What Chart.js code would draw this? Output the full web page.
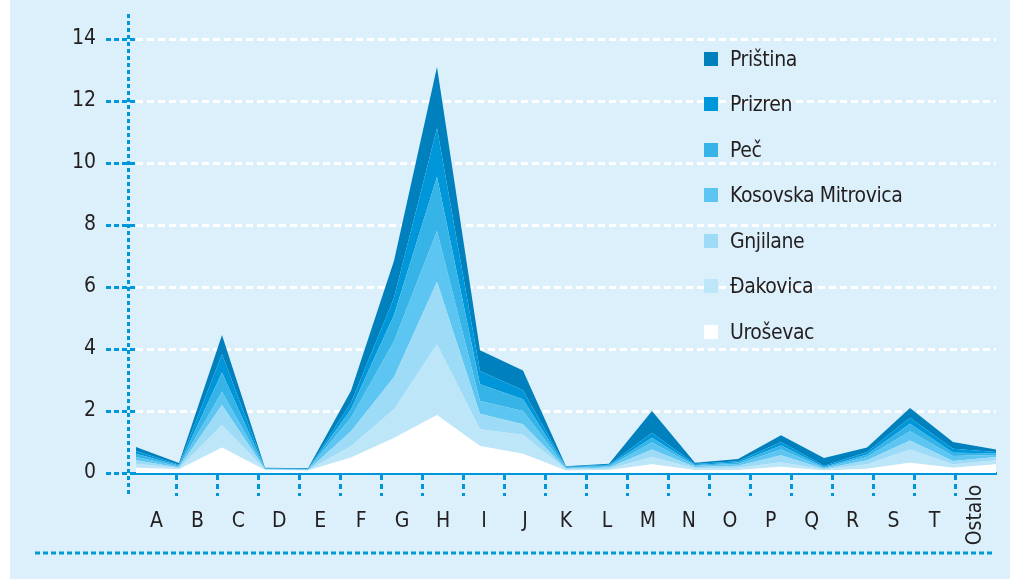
<!DOCTYPE html>
<html>
<head>
<meta charset="utf-8">
<script src="https://cdn.jsdelivr.net/npm/chart.js@4.4.0/dist/chart.umd.min.js"></script>
<style>
  html, body { margin: 0; padding: 0; background: #fff; }
  #wrap { position: relative; width: 1010px; height: 579px;
    background: linear-gradient(to right, #fff 10px, #dcf0fb 10px); }
  #legend { position: absolute; left: 704px; top: 36px; list-style: none; margin: 0; padding: 0;
    font-family: 'Liberation Sans Narrow', 'DejaVu Sans Condensed', Roboto, sans-serif;
    font-size: 21px; letter-spacing: -0.4px; color: #231f20; }
  #legend li { height: 45.5px; display: flex; align-items: center; }
  #legend .box { width: 14px; height: 14px; margin-right: 12px; flex: none; }
</style>
</head>
<body>
<div id="wrap">
  <canvas id="chart"></canvas>
  <ul id="legend"></ul>
</div>
<script>
// categories on the x axis
const categories = ['A', 'B', 'C', 'D', 'E', 'F', 'G', 'H', 'I', 'J', 'K',
  'L', 'M', 'N', 'O', 'P', 'Q', 'R', 'S', 'T', 'Ostalo'];

const yTicks = [0, 2, 4, 6, 8, 10, 12, 14];

// stacked series, bottom to top
const urosevac     = [0.17, 0.12, 0.82, 0.10, 0.08, 0.50, 1.13, 1.87, 0.87, 0.62, 0.08, 0.10, 0.28, 0.10, 0.10, 0.20, 0.08, 0.14, 0.33, 0.17, 0.28];
const dakovica     = [0.13, 0.03, 0.73, 0.01, 0.01, 0.37, 0.93, 2.28, 0.54, 0.61, 0.03, 0.04, 0.24, 0.05, 0.07, 0.15, 0.03, 0.14, 0.43, 0.11, 0.13];
const gnjilane     = [0.11, 0.03, 0.64, 0.01, 0.01, 0.48, 1.04, 2.02, 0.50, 0.34, 0.03, 0.04, 0.24, 0.04, 0.06, 0.22, 0.03, 0.13, 0.29, 0.11, 0.11];
const kosMitrovica = [0.11, 0.03, 0.43, 0.01, 0.01, 0.43, 1.15, 1.64, 0.41, 0.43, 0.02, 0.03, 0.22, 0.04, 0.06, 0.19, 0.03, 0.11, 0.30, 0.16, 0.06];
const pec          = [0.10, 0.03, 0.62, 0.01, 0.01, 0.28, 0.85, 1.75, 0.54, 0.38, 0.02, 0.03, 0.16, 0.03, 0.05, 0.13, 0.02, 0.08, 0.24, 0.10, 0.06];
const prizren      = [0.09, 0.03, 0.59, 0.01, 0.01, 0.21, 0.55, 1.56, 0.43, 0.29, 0.02, 0.03, 0.16, 0.03, 0.04, 0.11, 0.04, 0.08, 0.19, 0.13, 0.04];
const pristina     = [0.13, 0.05, 0.62, 0.02, 0.02, 0.38, 1.20, 1.98, 0.67, 0.64, 0.02, 0.03, 0.70, 0.04, 0.07, 0.22, 0.25, 0.14, 0.32, 0.22, 0.08];

const seriesNames  = ['Uroševac', 'Đakovica', 'Gnjilane', 'Kosovska Mitrovica', 'Peč', 'Prizren', 'Priština'];
const seriesValues = [urosevac, dakovica, gnjilane, kosMitrovica, pec, prizren, pristina];
const seriesColors = ['#ffffff', '#bee6f9', '#9ddbf7', '#5cc5f1', '#37b4e7', '#0096da', '#0081bd'];

const BLUE = '#0096da';
const TEXT = '#231f20';
const FONT = "'Liberation Sans Narrow', 'DejaVu Sans Condensed', Roboto, sans-serif";
const FONT_SIZE = 21;

const datasets = seriesNames.map((name, i) => ({
  label: name,
  data: seriesValues[i],
  backgroundColor: seriesColors[i],
  borderWidth: 0,
  pointRadius: 0,
  tension: 0,
  fill: i === 0 ? 'origin' : '-1',
  xAxisID: 'x',
  yAxisID: 'y'
}));

// extra decoration: vertical axis line, bottom rule, rotated last label
const decor = {
  id: 'decor',
  afterDraw(chart) {
    const ctx = chart.ctx;
    const area = chart.chartArea;
    const xs = chart.scales.xLabels;
    ctx.save();
    ctx.strokeStyle = BLUE;
    ctx.lineWidth = 3;
    ctx.setLineDash([4, 3]);
    ctx.beginPath();
    ctx.moveTo(area.left - 7.5, area.top - 25);
    ctx.lineTo(area.left - 7.5, area.bottom + 22);
    ctx.stroke();

    ctx.setLineDash([5, 3]);
    ctx.beginPath();
    ctx.moveTo(35, area.bottom + 80);
    ctx.lineTo(area.right - 4, area.bottom + 80);
    ctx.stroke();

    const last = categories.length - 1;
    ctx.translate(xs.getPixelForTick(last), area.bottom + 42);
    ctx.rotate(-Math.PI / 2);
    ctx.fillStyle = TEXT;
    ctx.font = FONT_SIZE + 'px ' + FONT;
    ctx.textAlign = 'center';
    ctx.textBaseline = 'middle';
    ctx.fillText(categories[last], 0, 0);
    ctx.restore();
  }
};

new Chart(document.getElementById('chart'), {
  type: 'line',
  data: { labels: categories, datasets: datasets },
  options: {
    responsive: true,
    maintainAspectRatio: false,
    animation: false,
    layout: { padding: { top: 39, right: 14, left: 0, bottom: 0 } },
    plugins: { legend: { display: false }, tooltip: { enabled: false } },
    scales: {
      x: { type: 'category', display: false, offset: false },
      xLabels: {
        type: 'category',
        labels: categories,
        position: 'bottom',
        offset: true,
        z: 1,
        grid: {
          offset: true,
          drawOnChartArea: false,
          drawTicks: true,
          tickLength: 23,
          tickWidth: 3,
          tickBorderDash: [5, 4],
          tickColor: ctx => (ctx.type !== 'tick' || ctx.index === 0) ? 'rgba(0,0,0,0)' : BLUE
        },
        border: { display: true, color: BLUE, width: 3, dash: [5, 3] },
        ticks: {
          autoSkip: false,
          maxRotation: 0,
          padding: 13,
          color: TEXT,
          font: { family: FONT, size: FONT_SIZE },
          callback: (v, i) => i === categories.length - 1 ? '' : categories[i]
        },
        afterFit: s => { s.height = 106; }
      },
      y: {
        stacked: true,
        min: yTicks[0],
        max: yTicks[yTicks.length - 1],
        afterBuildTicks: s => { s.ticks = yTicks.map(v => ({ value: v })); },
        ticks: { padding: 10, color: TEXT, font: { family: FONT, size: FONT_SIZE } },
        grid: {
          color: ctx => (ctx.tick && ctx.tick.value === 0) ? 'rgba(0,0,0,0)' : '#ffffff',
          lineWidth: 3,
          tickLength: 30,
          tickWidth: 3,
          tickColor: BLUE,
          tickBorderDash: [5, 3]
        },
        // in v4 the border dash also sets the grid line dash
        border: { display: false, dash: [7, 4] },
        afterFit: s => { s.width = 136; }
      }
    }
  },
  plugins: [decor]
});

// legend, top series first
const legend = document.getElementById('legend');
for (let i = seriesNames.length - 1; i >= 0; i--) {
  const li = document.createElement('li');
  const box = document.createElement('span');
  box.className = 'box';
  box.style.background = seriesColors[i];
  li.appendChild(box);
  li.appendChild(document.createTextNode(seriesNames[i]));
  legend.appendChild(li);
}
</script>
</body>
</html>
